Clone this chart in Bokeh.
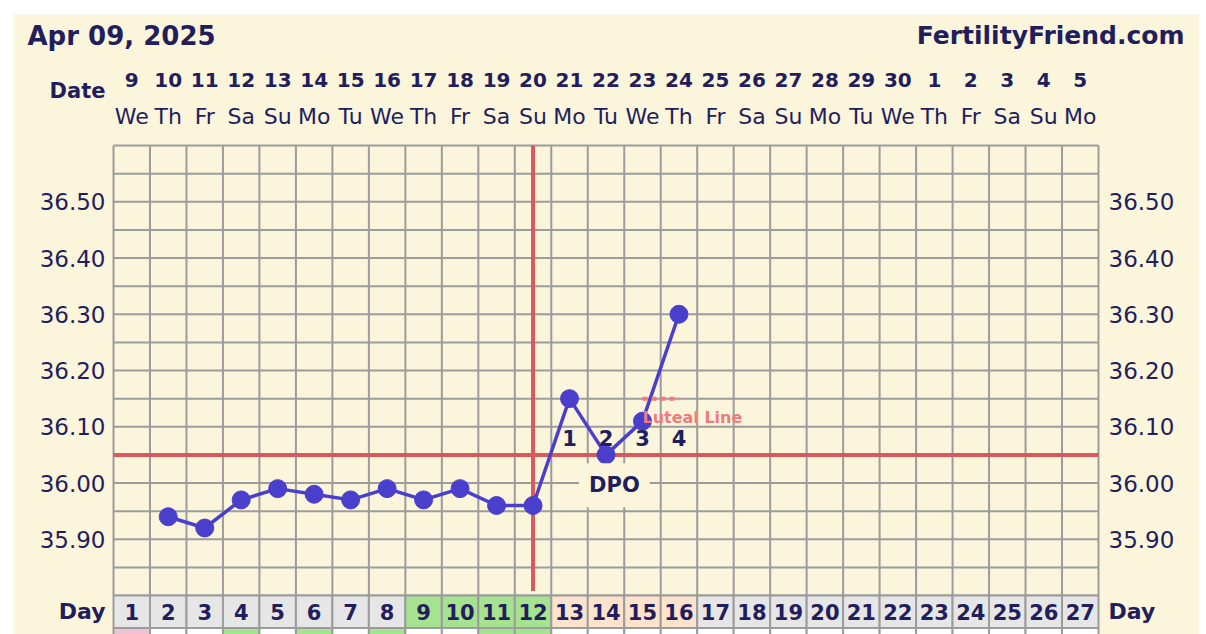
from bokeh.plotting import figure
from bokeh.models import Label, Range1d, ColumnDataSource, Spacer
from bokeh.layouts import column, row
from bokeh.embed import file_html
from bokeh.resources import INLINE
from bokeh.core.properties import value

# ---------------- data ----------------
chart_date = "Apr 09, 2025"
site_name = "FertilityFriend.com"
cycle_days = list(range(1, 28))
date_numbers = ["9", "10", "11", "12", "13", "14", "15", "16", "17", "18", "19", "20",
                "21", "22", "23", "24", "25", "26", "27", "28", "29", "30",
                "1", "2", "3", "4", "5"]
weekdays = ["We", "Th", "Fr", "Sa", "Su", "Mo", "Tu", "We", "Th", "Fr", "Sa", "Su", "Mo",
            "Tu", "We", "Th", "Fr", "Sa", "Su", "Mo", "Tu", "We", "Th", "Fr", "Sa", "Su", "Mo"]
temp_days = [2, 3, 4, 5, 6, 7, 8, 9, 10, 11, 12, 13, 14, 15, 16]
temps = [35.94, 35.92, 35.97, 35.99, 35.98, 35.97, 35.99, 35.97, 35.99, 35.96, 35.96,
         36.15, 36.05, 36.11, 36.30]
temp_ticks = [35.90, 36.00, 36.10, 36.20, 36.30, 36.40, 36.50]
coverline = 36.05
ovulation_day = 12
luteal_level = 36.15
luteal_days = [15, 16]
dpo_days = [13, 14, 15, 16]
dpo_labels = ["1", "2", "3", "4"]
day_phase = (["none"] * 8 + ["fertile"] * 4 + ["luteal"] * 4 + ["none"] * 11)
row2_phase = (["pink", "white", "white", "green", "white", "green", "white", "green",
               "white", "white", "green", "green"] + ["white"] * 15)

# ---------------- style ----------------
CREAM = "#fbf5dc"
GRID = "#9c9c9c"
NAVY = "#221e5c"
BLUE = "#4a3fcc"
RED = "#d95a5c"
PINK = "#f07a7c"
FONT = "DejaVu Sans"
phase_colors = {"none": "#e6e6e6", "fertile": "#a6e391", "luteal": "#fde3cc"}
row2_colors = {"pink": "#efc3d6", "white": "#ffffff", "green": "#a6e391"}

W, H = 1186, 620
LEFT, RIGHT = 100, 101          # space left / right of the chart grid (px)
TOP = 131                       # space above the chart grid (px)
GRID_H = 450                    # chart grid height (px)
X0, X1 = 0.5, 27.5
Y_MIN, Y_MAX = 35.80, 36.60
px_x = (W - LEFT - RIGHT) / (X1 - X0)
px_y = GRID_H / (Y_MAX - Y_MIN)
ROW_H = 32.5 / px_y

p = figure(width=W, height=H,
           x_range=Range1d(X0 - LEFT / px_x, X1 + RIGHT / px_x),
           y_range=Range1d(Y_MIN - (H - TOP - GRID_H) / px_y, Y_MAX + TOP / px_y),
           output_backend="svg", toolbar_location=None,
           x_axis_location=None, y_axis_location=None, min_border=0,
           background_fill_color=CREAM, border_fill_color=CREAM,
           outline_line_color=None)
p.grid.visible = False

# chart grid
vlines = [X0 + i for i in range(int(X1 - X0) + 1)]
hlines = [round(Y_MIN + 0.05 * i, 2) for i in range(17)]
p.segment(x0=vlines, y0=[Y_MIN] * len(vlines), x1=vlines, y1=[Y_MAX] * len(vlines),
          line_color=GRID, line_width=2)
p.segment(x0=[X0] * len(hlines), y0=hlines, x1=[X1] * len(hlines), y1=hlines,
          line_color=GRID, line_width=2)

# day rows
day_src = ColumnDataSource(dict(
    x=cycle_days,
    y=[Y_MIN - ROW_H / 2] * len(cycle_days),
    y2=[Y_MIN - ROW_H * 1.5] * len(cycle_days),
    c=[phase_colors[k] for k in day_phase],
    c2=[row2_colors[k] for k in row2_phase],
    t=[str(d) for d in cycle_days],
))
p.rect(x="x", y="y2", width=1, height=ROW_H, fill_color="c2", line_color=GRID,
       line_width=2, source=day_src)
p.rect(x="x", y="y", width=1, height=ROW_H, fill_color="c", line_color=GRID,
       line_width=2, source=day_src)
p.text(x="x", y="y", text="t", source=day_src, text_font=value(FONT),
       text_font_style="bold", text_font_size="21px", text_align="center",
       text_baseline="middle", text_color=NAVY)
p.text(x=[X0, X1], y=[Y_MIN - ROW_H / 2] * 2, text=["Day", "Day"], x_offset=[-8, 10],
       text_font=value(FONT), text_font_style="bold", text_font_size="22px",
       text_color=NAVY, text_align=["right", "left"], text_baseline="middle")

# temperature scale labels (both sides)
temp_text = [f"{t:.2f}" for t in temp_ticks]
p.text(x=[X0] * len(temp_ticks), y=temp_ticks, text=temp_text, x_offset=-8,
       text_font=value(FONT), text_font_size="23px", text_color=NAVY,
       text_align="right", text_baseline="middle")
p.text(x=[X1] * len(temp_ticks), y=temp_ticks, text=temp_text, x_offset=10,
       text_font=value(FONT), text_font_size="23px", text_color=NAVY,
       text_align="left", text_baseline="middle")

# header: title, dates, weekdays
p.text(x=[X0], y=[Y_MAX], text=[chart_date], x_offset=-86, y_offset=-110,
       text_font=value(FONT), text_font_style="bold", text_font_size="26px",
       text_color=NAVY, text_align="left", text_baseline="middle")
p.text(x=[X1], y=[Y_MAX], text=[site_name], x_offset=86, y_offset=-110,
       text_font=value(FONT), text_font_style="bold", text_font_size="25px",
       text_color=NAVY, text_align="right", text_baseline="middle")
p.text(x=[X0], y=[Y_MAX], text=["Date"], x_offset=-8, y_offset=-55,
       text_font=value(FONT), text_font_style="bold", text_font_size="21px",
       text_color=NAVY, text_align="right", text_baseline="middle")
p.text(x=cycle_days, y=[Y_MAX] * len(cycle_days), text=date_numbers, y_offset=-66,
       text_font=value(FONT), text_font_style="bold", text_font_size="20px",
       text_color=NAVY, text_align="center", text_baseline="middle")
p.text(x=cycle_days, y=[Y_MAX] * len(cycle_days), text=weekdays, y_offset=-29,
       text_font=value(FONT), text_font_size="22px",
       text_color=NAVY, text_align="center", text_baseline="middle")

# ovulation line / coverline
p.segment(x0=[ovulation_day], y0=[Y_MIN + 0.008], x1=[ovulation_day], y1=[Y_MAX],
          line_color=RED, line_width=4)
p.segment(x0=[X0], y0=[coverline], x1=[X1], y1=[coverline], line_color=RED, line_width=4)

# temperatures
p.line(x=temp_days, y=temps, line_color=BLUE, line_width=3.5)
p.scatter(x=temp_days, y=temps, size=18, fill_color=BLUE, line_color=BLUE)

# luteal line
p.line(x=luteal_days, y=[luteal_level] * len(luteal_days), line_color=PINK,
       line_width=4, line_dash="5 4")

# DPO
p.text(x=dpo_days, y=[36.08] * len(dpo_days), text=dpo_labels, text_font=value(FONT),
       text_font_style="bold", text_font_size="21px", text_align="center",
       text_baseline="middle", text_color=NAVY)
p.add_layout(Label(x=luteal_days[0], y=36.116, text="Luteal Line", text_font=FONT,
                   text_font_style="bold", text_font_size="16px", text_color=PINK,
                   text_align="left", text_baseline="middle"))
p.add_layout(Label(x=14.23, y=35.996, text="DPO", text_font=FONT, text_font_style="bold",
                   text_font_size="21px", text_color=NAVY, text_align="center",
                   text_baseline="middle", background_fill_color=CREAM, padding=10))

layout = column(Spacer(width=1199, height=14), row(Spacer(width=13, height=H), p))
html = file_html(layout, INLINE, title="Fertility chart")
html = html.replace("<body>", '<body style="background-color:#f2f2f2;">', 1)
open("out.html", "w").write(html)
